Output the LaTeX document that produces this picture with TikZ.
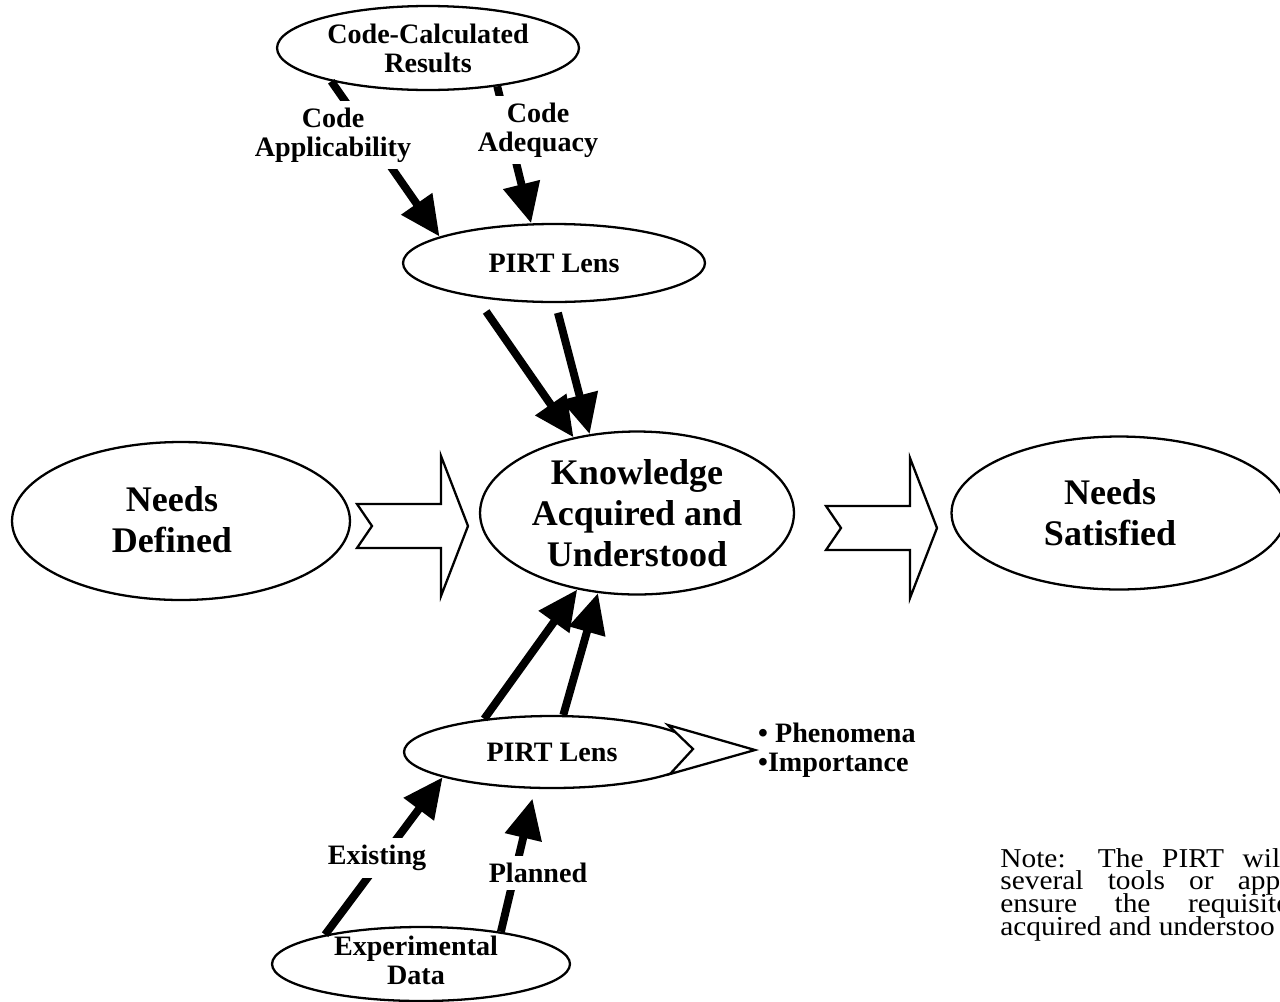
\documentclass[tikz,border=0pt]{standalone}
\usepackage{fontspec}
\setmainfont{Liberation Serif}
\newfontfamily\notefont[FakeStretch=1.08]{Liberation Serif}
\usetikzlibrary{arrows.meta, shapes.geometric}

\tikzset{
  oval/.style={ellipse, draw, line width=1.3pt, fill=white, inner sep=0pt},
  bigtxt/.style={font=\bfseries\fontsize{20.5}{23.5}\selectfont, align=center},
  midtxt/.style={font=\bfseries\fontsize{16}{16.5}\selectfont, align=center},
  lbl/.style={midtxt, fill=white, inner sep=4pt},
  notetxt/.style={font=\notefont\fontsize{15.5}{13}\selectfont, inner sep=0pt, anchor=base west},
  fat/.style={line width=4.5pt, -{Triangle[length=0.8cm, width=0.72cm]}},
  hollowarrow/.pic={
    \draw[line width=1.3pt, fill=white]
      (0,-22) -- (84,-22) -- (84,-70) -- (111,0) -- (84,70) -- (84,22) -- (0,22) -- (15,0) -- cycle;
  }
}

\begin{document}
\begin{tikzpicture}[x=0.02cm, y=-0.02cm]
\useasboundingbox (0,0) rectangle (1280,1001);

% ellipses
\node[oval, minimum width=6.76cm, minimum height=3.16cm] (defined) at (181,521) {};
\node[bigtxt] (definedTxt) at (172,520) {Needs\\Defined};
\node[oval, bigtxt, minimum width=6.28cm, minimum height=3.26cm] (know) at (637,513) {Knowledge\\Acquired and\\Understood};
\node[oval, bigtxt, minimum width=6.7cm, minimum height=3.06cm] (satisfied) at (1119,513) {};
\node[bigtxt] (satisfiedTxt) at (1110,513) {Needs\\Satisfied};
\node[oval, midtxt, minimum width=6.04cm, minimum height=1.68cm] (calc) at (428,48) {Code-Calculated\\Results};
\node[oval, midtxt, minimum width=6.04cm, minimum height=1.56cm] (lensTop) at (554,263) {PIRT Lens};
\node[oval, midtxt, minimum width=5.92cm, minimum height=1.44cm] (lensBot) at (552,752) {PIRT Lens};
\node[oval, minimum width=5.96cm, minimum height=1.48cm] (expData) at (421,964) {};
\node[midtxt] (expTxt) at (416,960) {Experimental\\Data};

% lens output
\draw[line width=1.3pt, fill=white] (668,725) -- (693,749) -- (670,774) -- (755,750) -- cycle;
\node[midtxt, align=left, anchor=west] (items) at (752,750) {• Phenomena\\•Importance};

% fat arrows
\draw[fat] (calc.199) -- (lensTop.167);
\draw[fat] (calc.331) -- (lensTop.120);
\draw[fat, shorten <=0.34cm] (lensTop.204) -- (know.130);
\draw[fat, shorten <=0.2cm] (lensTop.272) -- (know.121);
\draw[fat] (lensBot.154) -- (know.232);
\draw[fat] (lensBot.73) -- (know.244);
\draw[fat] (expData.163) -- (lensBot.193);
\draw[fat, shorten >=0.2cm] (expData.22) -- (lensBot.245);

% labels over the arrows
\node[lbl] (appl) at (333,135) {Code\\Applicability};
\node[lbl] (adeq) at (538,130) {Code\\Adequacy};
\node[lbl] (exist) at (377,858) {Existing};
\node[lbl] (plan) at (538,873) {Planned};

% hollow flow arrows
\pic at (357,526) {hollowarrow};
\pic at (826,528) {hollowarrow};

% note
\node[notetxt] (note1) at (1000,867) {\makebox[5.6cm][s]{Note: The PIRT wil}};
\node[notetxt] (note2) at (1000,889) {\makebox[5.6cm][s]{several tools or app}};
\node[notetxt] (note3) at (1000,912) {\makebox[5.78cm][s]{ensure the requisite}};
\node[notetxt] (note4) at (1000,935) {acquired and understoo};
\end{tikzpicture}
\end{document}
